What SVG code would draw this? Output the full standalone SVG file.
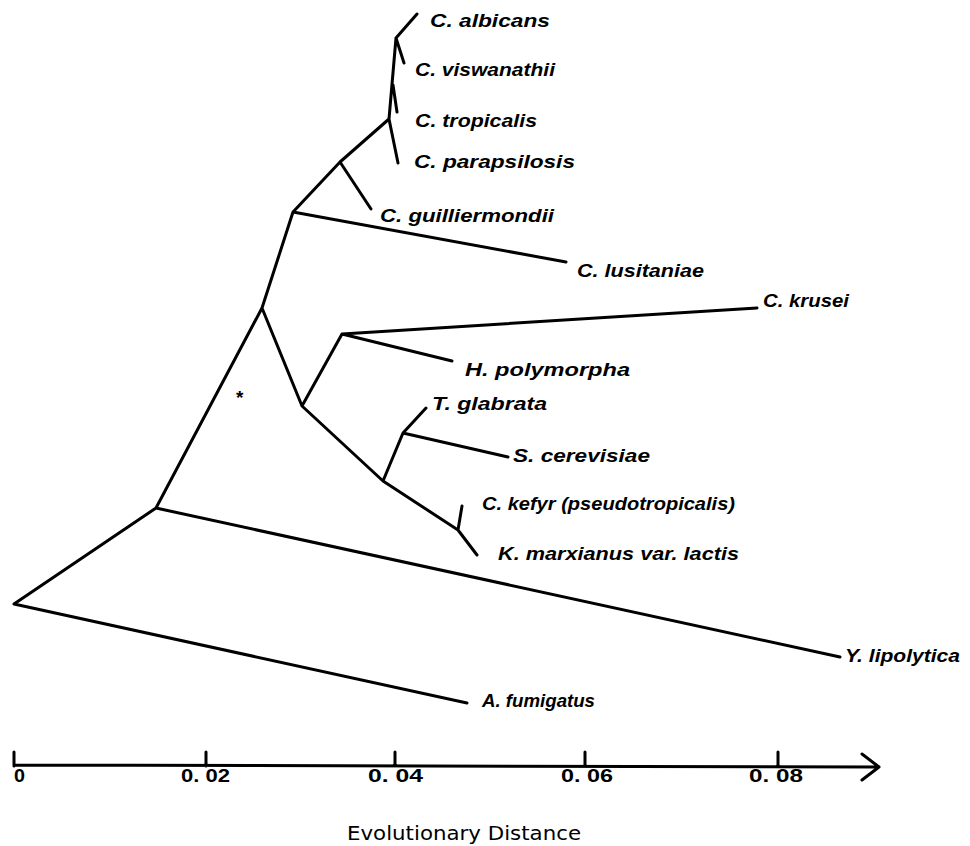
<svg xmlns="http://www.w3.org/2000/svg" width="970" height="846" viewBox="0 0 970 846">
<style>
.e{stroke:#000;stroke-width:3;fill:none;stroke-linecap:round;stroke-linejoin:round}
.lb{font-family:"Liberation Sans",Arial,sans-serif;font-weight:bold;font-style:italic;font-size:19px;fill:#000}
.ax{font-family:"Liberation Sans",Arial,sans-serif;font-weight:bold;font-size:19px;fill:#000}
.tt{font-family:"DejaVu Sans","Liberation Sans",sans-serif;font-size:19px;fill:#000}
</style>
<rect width="970" height="846" fill="#fff"/>
<g id="edges">
<path class="e" d="M14,604 L156,508 M14,604 L467,703 M156,508 L840,657 M156,508 L262,308 L293,212 M293,212 L566,262 M293,212 L340,162 L371,209 M340,162 L389,119 L398,163 M389,119 L396,38 L417,14 M396,38 L404,63 M393,85 L397,112 M262,308 L302,406 L342,334 L757,308 M342,334 L452,361 M302,406 L383,481 L403,433 L426,408 M403,433 L508,457 M383,481 L458,530 L462,506 M458,530 L477,555"/>
</g>
<g id="n-albicans"><text class="lb" x="430" y="27" textLength="120" lengthAdjust="spacingAndGlyphs">C. albicans</text></g>
<g id="n-viswanathii"><text class="lb" x="415" y="76" textLength="140" lengthAdjust="spacingAndGlyphs">C. viswanathii</text></g>
<g id="n-tropicalis"><text class="lb" x="415" y="127" textLength="122" lengthAdjust="spacingAndGlyphs">C. tropicalis</text></g>
<g id="n-parapsilosis"><text class="lb" x="414" y="168" textLength="161" lengthAdjust="spacingAndGlyphs">C. parapsilosis</text></g>
<g id="n-guilliermondii"><text class="lb" x="380" y="222" textLength="174" lengthAdjust="spacingAndGlyphs">C. guilliermondii</text></g>
<g id="n-lusitaniae"><text class="lb" x="577" y="277" textLength="127" lengthAdjust="spacingAndGlyphs">C. lusitaniae</text></g>
<g id="n-krusei"><text class="lb" x="763" y="307" textLength="86" lengthAdjust="spacingAndGlyphs">C. krusei</text></g>
<g id="n-polymorpha"><text class="lb" x="465" y="376" textLength="165" lengthAdjust="spacingAndGlyphs">H.  polymorpha</text></g>
<g id="n-glabrata"><text class="lb" x="432" y="410" textLength="115" lengthAdjust="spacingAndGlyphs">T. glabrata</text></g>
<g id="n-cerevisiae"><text class="lb" x="513" y="462" textLength="137" lengthAdjust="spacingAndGlyphs">S.  cerevisiae</text></g>
<g id="n-kefyr"><text class="lb" x="482" y="510" textLength="253" lengthAdjust="spacingAndGlyphs">C. kefyr (pseudotropicalis)</text></g>
<g id="n-marxianus"><text class="lb" x="498" y="560" textLength="241" lengthAdjust="spacingAndGlyphs">K. marxianus var. lactis</text></g>
<g id="n-lipolytica"><text class="lb" x="845" y="662" textLength="115" lengthAdjust="spacingAndGlyphs">Y. lipolytica</text></g>
<g id="n-fumigatus"><text class="lb" x="482" y="707" textLength="113" lengthAdjust="spacingAndGlyphs">A. fumigatus</text></g>
<g id="star"><text class="lb" x="239" y="404" text-anchor="middle" font-style="normal" font-size="22">*</text></g>
<g id="axis">
<path class="e" stroke-width="2.5" d="M14,765 L879,767 M862,754 L879,767 L862,780 M14,752 L14,766 M206,752 L206,766 M395,752 L395,766 M585,752 L585,766 M778,752 L778,766"/>
<text class="ax" x="14" y="782" textLength="11" lengthAdjust="spacingAndGlyphs">0</text>
<text class="ax" x="181" y="782" textLength="49" lengthAdjust="spacingAndGlyphs">0. 02</text>
<text class="ax" x="368" y="782" textLength="55" lengthAdjust="spacingAndGlyphs">0. 04</text>
<text class="ax" x="561" y="782" textLength="52" lengthAdjust="spacingAndGlyphs">0. 06</text>
<text class="ax" x="749" y="782" textLength="54" lengthAdjust="spacingAndGlyphs">0. 08</text>
<text class="tt" x="347" y="840" textLength="234" lengthAdjust="spacingAndGlyphs">Evolutionary Distance</text>
</g>
</svg>
